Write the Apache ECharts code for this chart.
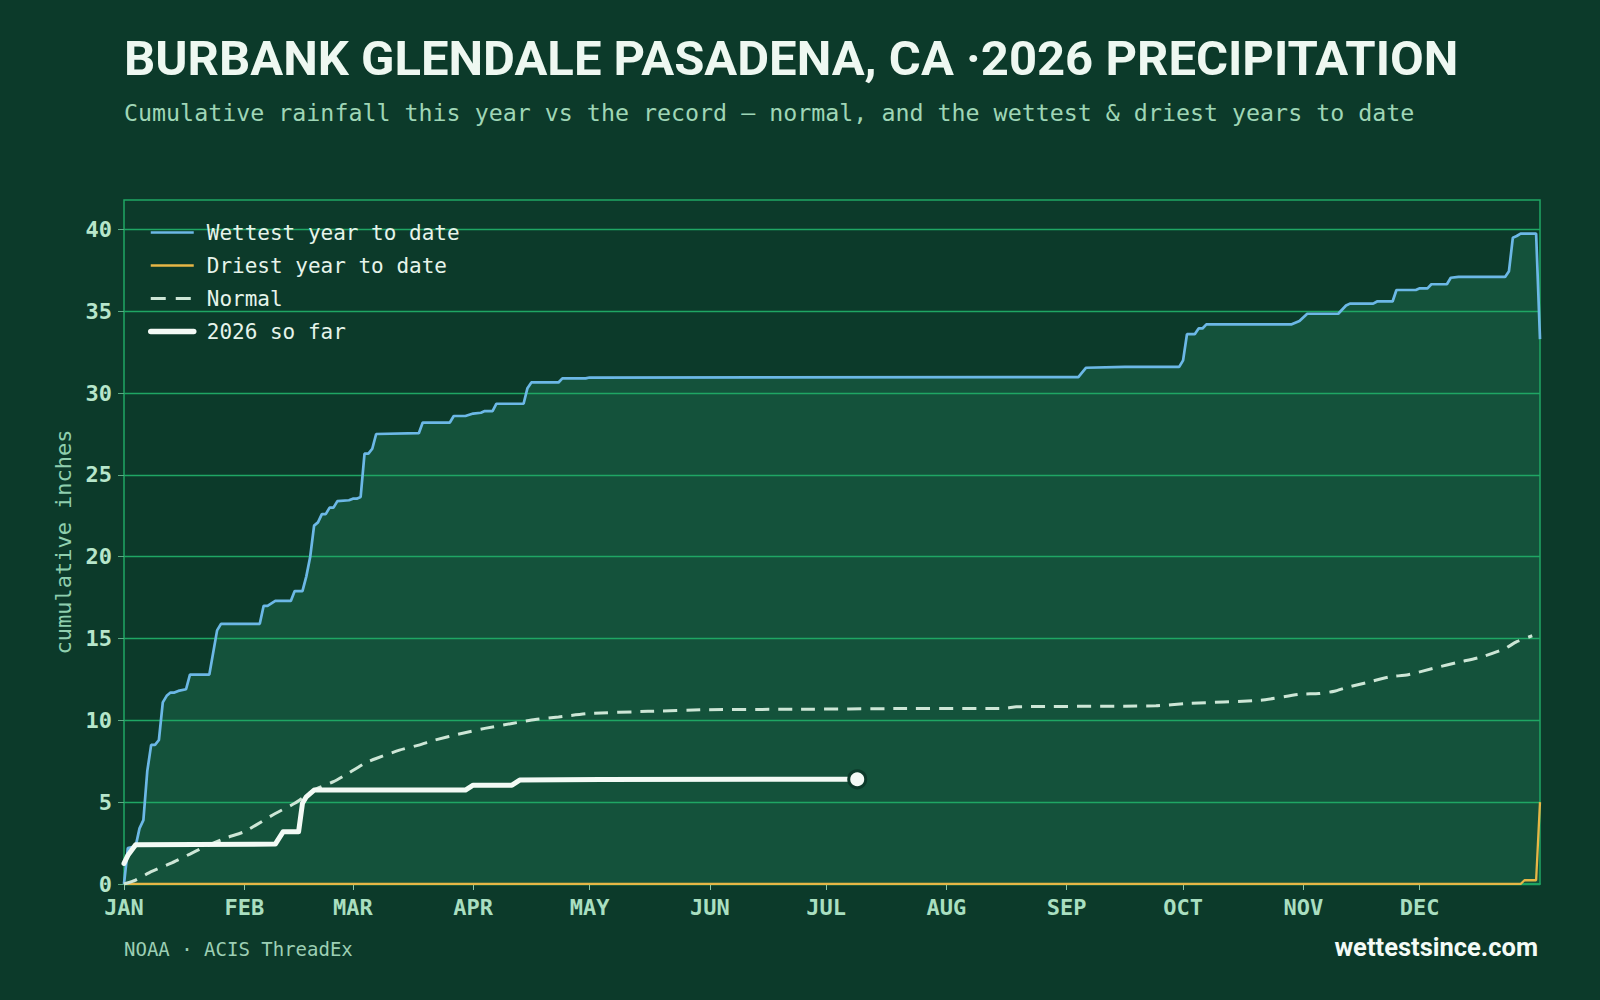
<!DOCTYPE html>
<html>
<head>
<meta charset="utf-8">
<script src="https://cdn.jsdelivr.net/npm/echarts@6/dist/echarts.min.js"></script>
<style>
  html, body { margin: 0; padding: 0; background: #0c3a2a; }
  #chart { width: 1600px; height: 1000px; }
</style>
</head>
<body>
<div id="chart"></div>
<script>
// day of year (Jan 1 = 0) for month starts
const monthStarts = [0, 31, 59, 90, 120, 151, 181, 212, 243, 273, 304, 334]
const monthLabels = ['JAN', 'FEB', 'MAR', 'APR', 'MAY', 'JUN', 'JUL', 'AUG', 'SEP', 'OCT', 'NOV', 'DEC']
const yTicks = [0, 5, 10, 15, 20, 25, 30, 35, 40]

// [day, cumulative inches]
const wettest = [
  [0, 0], [1, 2.2], [3, 2.3], [4, 3.4], [5, 3.9], [6, 6.9], [7, 8.5], [8, 8.5], [9, 8.8],
  [10, 11.1], [11, 11.5], [12, 11.7], [13, 11.7], [14, 11.8], [16, 11.9], [17, 12.8], [22, 12.8],
  [24, 15.5], [25, 15.9], [35, 15.9], [36, 17.0], [37, 17.0], [39, 17.3], [43, 17.3], [44, 17.9],
  [46, 17.9], [47, 18.8], [48, 20.0], [49, 21.9], [50, 22.1], [51, 22.6], [52, 22.6], [53, 23.0],
  [54, 23.0], [55, 23.4], [58, 23.45], [59, 23.55], [60, 23.55], [61, 23.65], [62, 26.3], [63, 26.3],
  [64, 26.6], [65, 27.5], [76, 27.55], [77, 28.2], [84, 28.2], [85, 28.6], [88, 28.6], [90, 28.75],
  [92, 28.8], [93, 28.9], [95, 28.9], [96, 29.35], [103, 29.35], [104, 30.3], [105, 30.65],
  [112, 30.65], [113, 30.9], [119, 30.9], [120, 30.95], [246, 30.98], [248, 31.55], [258, 31.6],
  [272, 31.6], [273, 32.0], [274, 33.6], [276, 33.6], [277, 33.95], [278, 33.95], [279, 34.2],
  [301, 34.2], [303, 34.4], [305, 34.85], [313, 34.85], [315, 35.35], [316, 35.47], [322, 35.47],
  [323, 35.6], [327, 35.6], [328, 36.3], [333, 36.3], [334, 36.4], [336, 36.4], [337, 36.65],
  [341, 36.65], [342, 37.05], [344, 37.1], [356, 37.1], [357, 37.45], [358, 39.5], [359, 39.6],
  [360, 39.75], [364, 39.75], [365, 33.3]
]

const driest = [[0, 0], [360, 0], [361, 0.23], [364, 0.23], [365, 5.0]]

const normal = [
  [0, 0], [3, 0.24], [7, 0.75], [12, 1.26], [17, 1.83], [20, 2.18], [26, 2.79], [31, 3.19],
  [34, 3.6], [39, 4.31], [44, 4.93], [49, 5.74], [54, 6.25], [57, 6.65], [62, 7.37], [65, 7.67],
  [71, 8.18], [76, 8.49], [80, 8.79], [87, 9.2], [93, 9.51], [100, 9.81], [106, 10.05],
  [112, 10.21], [120, 10.42], [135, 10.55], [150, 10.65], [174, 10.68], [200, 10.72],
  [227, 10.73], [230, 10.83], [266, 10.89], [274, 11.03], [293, 11.23], [303, 11.59],
  [308, 11.64], [312, 11.78], [315, 12.0], [320, 12.29], [326, 12.65], [331, 12.79],
  [338, 13.21], [344, 13.55], [350, 13.88], [356, 14.39], [359, 14.81], [363, 15.17]
]

const thisYear = [
  [0, 1.26], [1, 1.75], [3, 2.4], [39, 2.44], [41, 3.19], [45, 3.19], [46, 4.93], [47, 5.33],
  [49, 5.74], [88, 5.74], [90, 6.04], [100, 6.04], [102, 6.35], [123, 6.39], [189, 6.4]
]

const MONO = '"DejaVu Sans Mono", monospace'
const GRID = '#1fa664'
const C_WET = '#6cb8e6'
const C_DRY = '#e6b646'
const C_NORM = '#cde6d6'
const C_NOW = '#f3faf5'

const chart = echarts.init(document.getElementById('chart'), null, { renderer: 'svg' })

const option = {
  backgroundColor: '#0c3a2a',
  animation: false,
  grid: {
    left: 124, right: 60, top: 200, bottom: 116,
    show: true, borderColor: GRID, borderWidth: 1.5, backgroundColor: 'transparent', z: 2
  },
  graphic: [
    {
      type: 'text', left: 124, top: 34, z: 10,
      style: { text: 'BURBANK GLENDALE PASADENA, CA ·2026 PRECIPITATION', fill: '#eef8f1',
        fontFamily: 'Roboto', fontWeight: 'bold', fontSize: 49 }
    },
    {
      type: 'text', left: 124, top: 101, z: 10,
      style: { text: 'Cumulative rainfall this year vs the record — normal, and the wettest & driest years to date',
        fill: '#9fd6b6', fontFamily: MONO, fontSize: 23.3 }
    },
    {
      type: 'text', left: 124, top: 939, z: 10,
      style: { text: 'NOAA · ACIS ThreadEx', fill: '#9ccfb4', fontFamily: MONO, fontSize: 19 }
    },
    {
      type: 'text', right: 62, top: 934, z: 10,
      style: { text: 'wettestsince.com', fill: '#f4fbf6', fontFamily: 'Roboto', fontWeight: 'bold', fontSize: 25.5 }
    }
  ],
  legend: {
    orient: 'vertical', left: 148, top: 222, padding: 0,
    itemWidth: 43, itemHeight: 14, itemGap: 12,
    itemStyle: { opacity: 0 },
    data: [
      { name: 'Wettest year to date', lineStyle: { width: 2.5, color: C_WET } },
      { name: 'Driest year to date', lineStyle: { width: 2.5, color: C_DRY } },
      { name: 'Normal', lineStyle: { width: 3, color: C_NORM, type: [15, 10] } },
      { name: '2026 so far', lineStyle: { width: 5.5, color: C_NOW, cap: 'round' } }
    ],
    textStyle: { color: '#e6f4ea', fontFamily: MONO, fontSize: 21, lineHeight: 21, padding: [0, 0, 0, 8] }
  },
  xAxis: {
    type: 'value', min: 0, max: 365, z: 2,
    axisLine: { show: true, lineStyle: { color: GRID, width: 1.5 } },
    axisTick: { show: true, customValues: monthStarts, length: 6, lineStyle: { color: '#8cc6a6' } },
    axisLabel: {
      customValues: monthStarts,
      formatter: v => monthLabels[monthStarts.indexOf(v)],
      color: '#a9dfc0', fontFamily: MONO, fontWeight: 'bold', fontSize: 22, margin: 12
    },
    splitLine: { show: false }
  },
  yAxis: {
    type: 'value', min: 0, max: 41.8, interval: 5, z: 2,
    name: 'cumulative inches', nameLocation: 'middle', nameGap: 47,
    nameTextStyle: { color: '#8fcfae', fontFamily: MONO, fontSize: 22 },
    axisLine: { show: false },
    axisTick: { show: true, customValues: yTicks, length: 6, lineStyle: { color: '#5aa883' } },
    axisLabel: {
      customValues: yTicks,
      color: '#b7e6cb', fontFamily: MONO, fontWeight: 'bold', fontSize: 22, margin: 12
    },
    splitLine: { show: true, lineStyle: { color: GRID, width: 1.4 } }
  },
  series: [
    {
      name: 'wettestFill', type: 'line', data: wettest, symbol: 'none', silent: true, z: 1,
      lineStyle: { width: 0, opacity: 0 },
      areaStyle: { color: '#14523b', opacity: 1 }
    },
    {
      name: 'Wettest year to date', type: 'line', data: wettest, symbol: 'none', z: 3,
      color: C_WET, lineStyle: { color: C_WET, width: 2.7 }
    },
    {
      name: 'Driest year to date', type: 'line', data: driest, symbol: 'none', z: 3,
      color: C_DRY, lineStyle: { color: C_DRY, width: 2.3 }
    },
    {
      name: 'Normal', type: 'line', data: normal, symbol: 'none', smooth: 0.2, z: 3,
      color: C_NORM, lineStyle: { color: C_NORM, width: 3, type: [14, 9] }
    },
    {
      name: '2026 so far', type: 'line', data: thisYear, symbol: 'none', z: 4,
      color: C_NOW, lineStyle: { color: C_NOW, width: 5, cap: 'round', join: 'round' }
    },
    {
      name: 'today', type: 'scatter', data: [thisYear[thisYear.length - 1]], z: 5,
      symbol: 'circle', symbolSize: 17,
      itemStyle: { color: C_NOW, borderColor: '#0c3a2a', borderWidth: 3, opacity: 1 }
    }
  ]
}

chart.setOption(option)
window.addEventListener('resize', () => chart.resize())
</script>
</body>
</html>
